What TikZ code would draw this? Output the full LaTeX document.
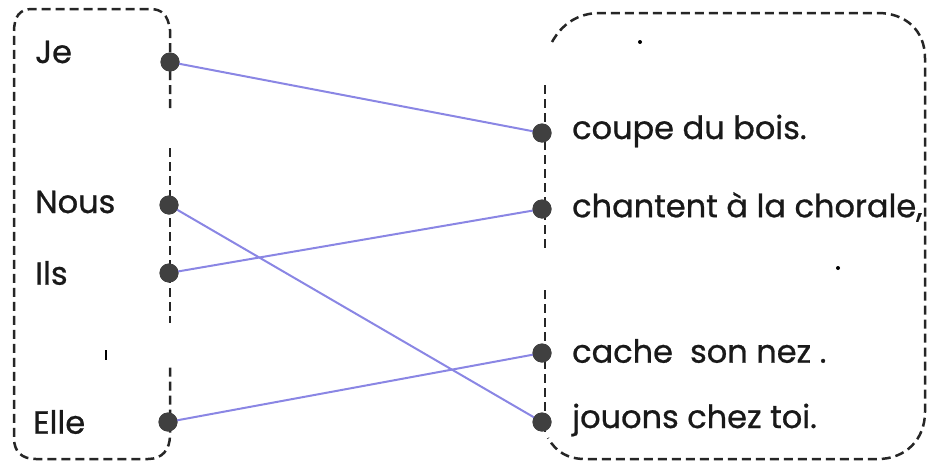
\documentclass[tikz,border=0pt]{standalone}
\usepackage{fontspec}
\setmainfont{Poppins}[FakeBold=0.8]
\definecolor{linkc}{RGB}{138,134,228}
\begin{document}
\begin{tikzpicture}[x=1pt,y=-1pt,
  boxline/.style={draw=black!85, line width=2.5pt, dash pattern=on 9pt off 5pt},
  link/.style={draw=linkc, line width=2pt},
  dotn/.style={circle, fill=black!75, minimum size=19pt, inner sep=0pt},
  lbl/.style={font=\fontsize{32}{34}\selectfont, anchor=west, inner sep=0pt, text=black!90}]
\useasboundingbox (0,0) rectangle (935,466);
% left box
\draw[boxline] (170,108) -- (170,30) .. controls (168,15) and (162,9) .. (150,9) -- (32,9)
  .. controls (20,9) and (14,16) .. (14,32) -- (14,438) .. controls (14,452) and (22,459) .. (36,459)
  -- (148,459) .. controls (162,459) and (170,450) .. (170,435) -- (170,363);
\draw[boxline] (170,148) -- (170,323);
% right box
\draw[boxline] (552,42) .. controls (562,24) and (578,13) .. (600,13) -- (878,13)
  .. controls (905,13) and (925,30) .. (925,58) -- (925,412)
  .. controls (925,440) and (905,459) .. (878,459) -- (585,459)
  .. controls (568,459) and (556,452) .. (548,438);
\draw[boxline] (545,85) -- (545,250);
\draw[boxline] (545,290) -- (545,432);
% stray marks
\fill[black] (640,42) circle (2);
\fill[black] (838,268) circle (2);
\draw[black, line width=1.6pt] (106,350) -- (106,360);
% dots
\node[dotn] (je) at (170,62) {};
\node[dotn] (nous) at (169,205) {};
\node[dotn] (ils) at (169,273) {};
\node[dotn] (elle) at (168,422) {};
\node[dotn] (coupe) at (542,133) {};
\node[dotn] (chant) at (542,209) {};
\node[dotn] (cache) at (542,353) {};
\node[dotn] (jouons) at (542,422) {};
% links
\draw[link] (je.center) -- (coupe.center);
\draw[link] (nous.center) -- (jouons.center);
\draw[link] (ils.center) -- (chant.center);
\draw[link] (elle.center) -- (cache.center);
\node[dotn] at (je) {};
\node[dotn] at (nous) {};
\node[dotn] at (ils) {};
\node[dotn] at (elle) {};
\node[dotn] at (coupe) {};
\node[dotn] at (chant) {};
\node[dotn] at (cache) {};
\node[dotn] at (jouons) {};
% labels
\node[lbl] (tje) at (35,52) {Je};
\node[lbl] (tnous) at (35,202) {Nous};
\node[lbl] (tils) at (35,273) {Ils};
\node[lbl] (telle) at (33,422) {Elle};
\node[lbl] (tcoupe) at (572,131) {coupe du bois.};
\node[lbl] (tchant) at (572,207) {chantent à la chorale,};
\node[lbl] (tcache) at (572,351) {cache\ \ son nez .};
\node[lbl] (tjouons) at (572,420) {jouons chez toi.};
\end{tikzpicture}
\end{document}
